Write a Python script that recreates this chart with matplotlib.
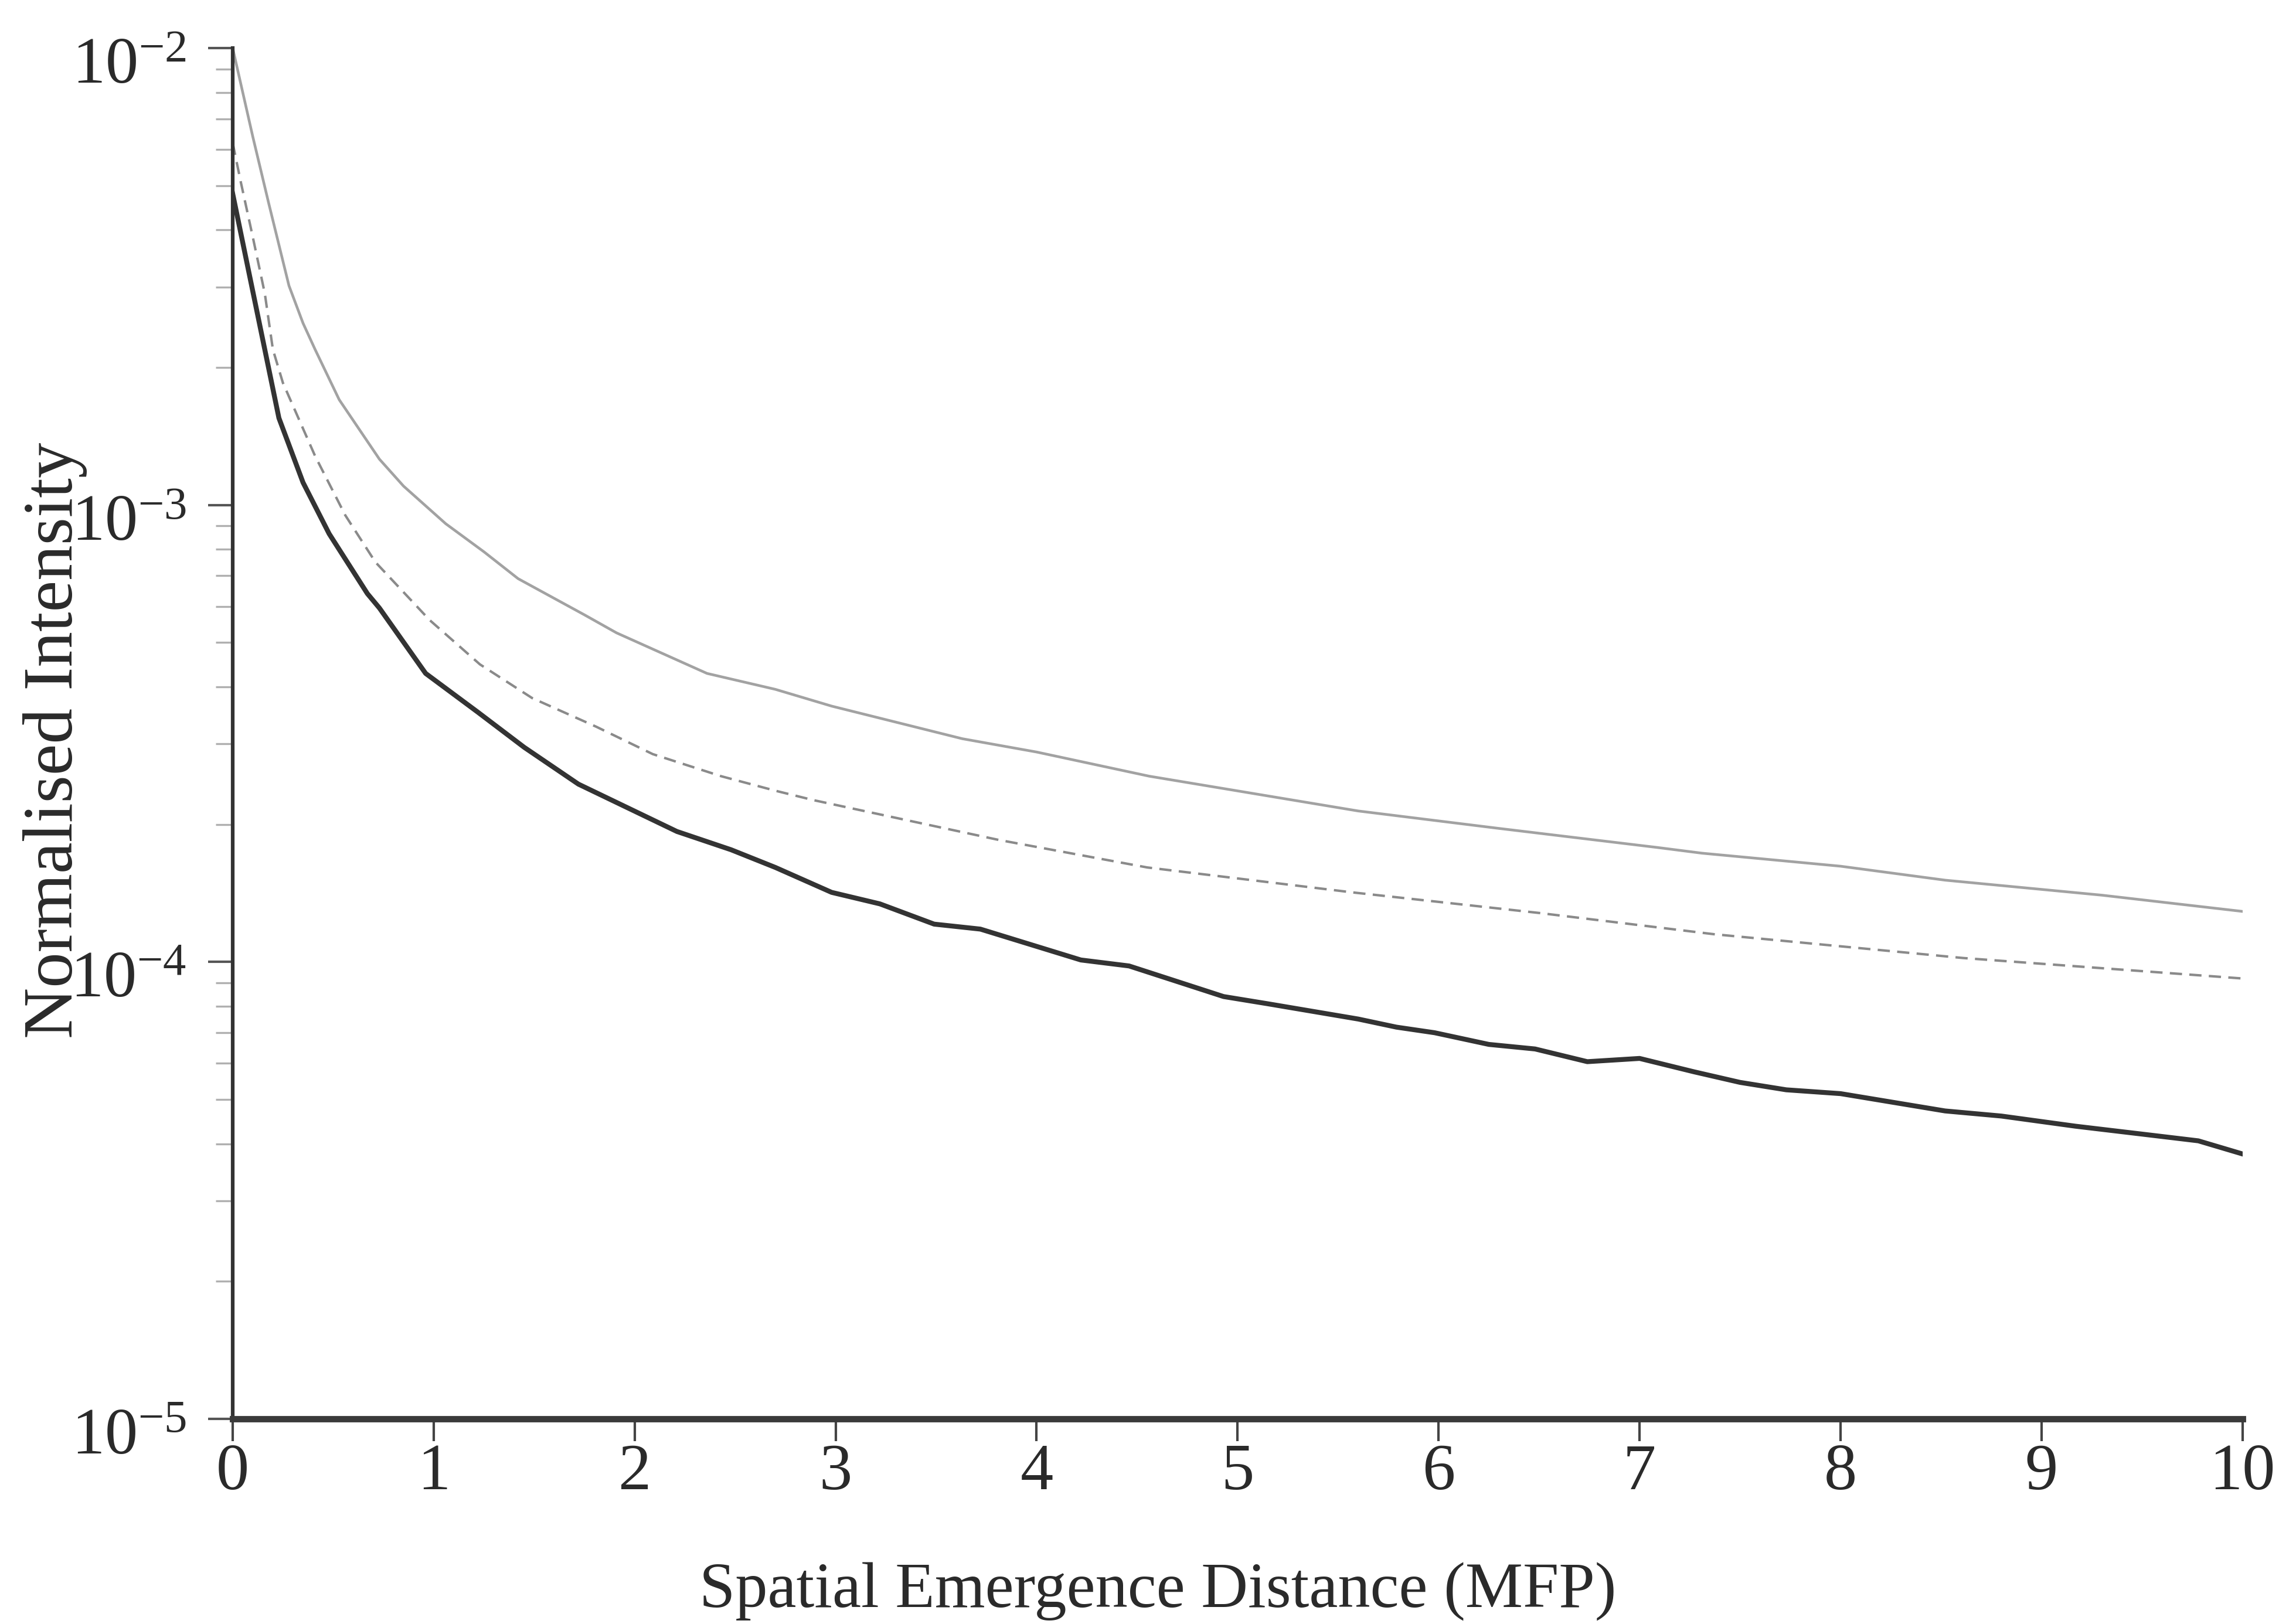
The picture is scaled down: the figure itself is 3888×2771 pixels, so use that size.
import matplotlib
matplotlib.use("Agg")
import matplotlib.pyplot as plt
from matplotlib.ticker import FixedLocator, NullFormatter
from matplotlib.transforms import ScaledTranslation

# ---- data ----
upper_x = [0.0, 0.05, 0.10, 0.18, 0.28, 0.35, 0.41, 0.53, 0.73, 0.85, 1.06, 1.25,
           1.42, 1.75, 1.91, 2.36, 2.70, 2.98, 3.63, 4.00, 4.56, 5.60, 6.30, 7.09,
           7.31, 8.00, 8.52, 9.30, 10.0]
upper_y = [1.0e-2, 8.0e-3, 6.4e-3, 4.56e-3, 3.02e-3, 2.5e-3, 2.19e-3, 1.70e-3,
           1.26e-3, 1.10e-3, 9.1e-4, 7.9e-4, 6.9e-4, 5.75e-4, 5.25e-4, 4.28e-4,
           3.95e-4, 3.63e-4, 3.08e-4, 2.88e-4, 2.55e-4, 2.14e-4, 1.96e-4, 1.78e-4,
           1.73e-4, 1.62e-4, 1.51e-4, 1.40e-4, 1.29e-4]

middle_x = [0.0, 0.04, 0.10, 0.16, 0.20, 0.25, 0.41, 0.56, 0.71, 0.98, 1.23, 1.49,
            1.81, 2.09, 2.43, 2.70, 2.89, 3.81, 4.55, 5.57, 6.50, 7.37, 8.61, 10.0]
middle_y = [6.2e-3, 5.1e-3, 3.86e-3, 2.9e-3, 2.19e-3, 1.85e-3, 1.28e-3, 9.5e-4,
            7.5e-4, 5.6e-4, 4.48e-4, 3.78e-4, 3.27e-4, 2.85e-4, 2.55e-4, 2.37e-4,
            2.26e-4, 1.85e-4, 1.61e-4, 1.42e-4, 1.28e-4, 1.15e-4, 1.02e-4, 9.2e-5]

lower_x = [0.0, 0.23, 0.35, 0.48, 0.67, 0.73, 0.96, 1.22, 1.45, 1.72, 2.21, 2.48,
           2.70, 2.98, 3.22, 3.49, 3.72, 4.22, 4.46, 4.93, 5.15, 5.60, 5.79, 5.98,
           6.25, 6.48, 6.74, 7.00, 7.27, 7.50, 7.73, 8.00, 8.52, 8.80, 9.17, 9.50,
           9.78, 10.0]
lower_y = [4.8e-3, 1.55e-3, 1.12e-3, 8.65e-4, 6.4e-4, 5.95e-4, 4.28e-4, 3.52e-4,
           2.95e-4, 2.45e-4, 1.93e-4, 1.76e-4, 1.61e-4, 1.42e-4, 1.34e-4, 1.21e-4,
           1.18e-4, 1.01e-4, 9.8e-5, 8.4e-5, 8.1e-5, 7.5e-5, 7.2e-5, 7.0e-5,
           6.6e-5, 6.45e-5, 6.05e-5, 6.15e-5, 5.75e-5, 5.45e-5, 5.25e-5, 5.15e-5,
           4.72e-5, 4.6e-5, 4.37e-5, 4.2e-5, 4.06e-5, 3.8e-5]

x_ticks = [0, 1, 2, 3, 4, 5, 6, 7, 8, 9, 10]
x_tick_labels = ["0", "1", "2", "3", "4", "5", "6", "7", "8", "9", "10"]
y_ticks = [1e-5, 1e-4, 1e-3, 1e-2]
y_tick_labels = [r"$\mathregular{10^{-5}}$", r"$\mathregular{10^{-4}}$",
                 r"$\mathregular{10^{-3}}$", r"$\mathregular{10^{-2}}$"]
x_label = "Spatial Emergence Distance (MFP)"
y_label = "Normalised Intensity"

# ---- style ----
plt.rcParams["font.family"] = ["Liberation Serif", "DejaVu Serif"]
plt.rcParams["mathtext.fontset"] = "custom"
plt.rcParams["mathtext.rm"] = "Liberation Serif"
plt.rcParams["mathtext.it"] = "Liberation Serif:italic"

fig = plt.figure(figsize=(12.96, 9.2367), dpi=300)
ax = fig.add_axes([0.1021, 0.1263, 0.8819, 0.8441])

ax.plot(upper_x, upper_y, color="#a2a2a2", lw=1.1, solid_joinstyle="round")
ax.plot(middle_x, middle_y, color="#8a8a8a", lw=1.0, dashes=(5, 3))
ax.plot(lower_x, lower_y, color="#333333", lw=2.0, solid_joinstyle="round")

ax.set_yscale("log")
ax.set_xlim(0, 10)
ax.set_ylim(1e-5, 1e-2)

for s in ["top", "right"]:
    ax.spines[s].set_visible(False)
ax.spines["left"].set_linewidth(1.5)
ax.spines["left"].set_color("#333333")
ax.spines["bottom"].set_linewidth(2.6)
ax.spines["bottom"].set_color("#3a3a3a")

ax.set_xticks(x_ticks, x_tick_labels)
ax.set_yticks(y_ticks, y_tick_labels)
minor = [m * 10.0 ** e for e in (-5, -4, -3) for m in range(2, 10)]
ax.yaxis.set_minor_locator(FixedLocator(minor))
ax.yaxis.set_minor_formatter(NullFormatter())

ax.tick_params(axis="x", which="major", direction="out", length=9, width=1.0,
               color="#444444", labelsize=27, pad=1, labelcolor="#2a2a2a")
ax.tick_params(axis="y", which="major", direction="out", length=10, width=1.0,
               color="#555555", labelsize=27, pad=9, labelcolor="#2a2a2a")
ax.tick_params(axis="y", which="minor", direction="out", length=7, width=0.8,
               color="#b0b0b0")

shift = ScaledTranslation(0, -5 / 72, fig.dpi_scale_trans)
for lab in ax.get_yticklabels():
    lab.set_transform(lab.get_transform() + shift)

fig.text(0.508, 0.020, x_label, ha="center", va="center", fontsize=26.5,
         color="#2a2a2a")
fig.text(0.0242, 0.544, y_label, ha="center", va="center", rotation=90,
         fontsize=29, color="#2a2a2a")

fig.savefig("out.png", dpi=300, facecolor="white")
